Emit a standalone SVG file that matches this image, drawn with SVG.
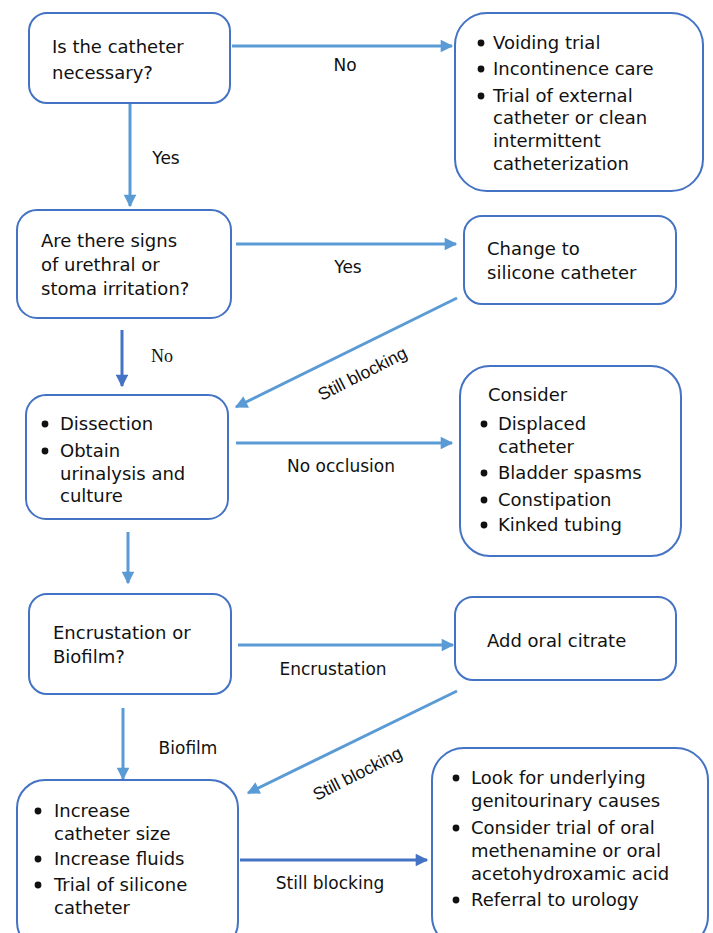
<svg xmlns="http://www.w3.org/2000/svg" width="713" height="933" viewBox="0 0 713 933">
<style>
.box{fill:#fff;stroke:#4472C4;stroke-width:2}
.t{font-family:"DejaVu Sans","Liberation Sans",sans-serif;font-size:18px;fill:#111}
.l{font-family:"DejaVu Sans","Liberation Sans",sans-serif;font-size:17px;fill:#111}
.d{font-family:"Liberation Sans",Arial,sans-serif;font-size:17.5px;fill:#111}
.s{font-family:"Liberation Serif","Times New Roman",serif;font-size:18px;fill:#111}
.c{stroke:#5B9BD5;stroke-width:3;fill:none}
.c2{stroke:#4472C4;stroke-width:3;fill:none}
.b{fill:#111}
</style>
<defs>
<marker id="a1" viewBox="0 0 10 10" refX="9" refY="5" markerWidth="4.5" markerHeight="4.2" orient="auto" markerUnits="strokeWidth"><path d="M0,0L10,5L0,10z" fill="#5B9BD5"/></marker>
<marker id="a2" viewBox="0 0 10 10" refX="9" refY="5" markerWidth="4.5" markerHeight="4.2" orient="auto" markerUnits="strokeWidth"><path d="M0,0L10,5L0,10z" fill="#4472C4"/></marker>
</defs>
<g id="connectors">
<line class="c" x1="232" y1="46" x2="452" y2="46" marker-end="url(#a1)"/>
<text class="l" x="345" y="71" text-anchor="middle">No</text>
<line class="c" x1="130" y1="104" x2="130" y2="206" marker-end="url(#a1)"/>
<text class="l" x="166" y="164" text-anchor="middle">Yes</text>
<line class="c" x1="236" y1="244" x2="456" y2="244" marker-end="url(#a1)"/>
<text class="l" x="348" y="273" text-anchor="middle">Yes</text>
<line class="c2" x1="122" y1="330" x2="122" y2="386" marker-end="url(#a2)"/>
<text class="s" x="162" y="362" text-anchor="middle">No</text>
<line class="c" x1="457" y1="298" x2="236" y2="407" marker-end="url(#a1)"/>
<text class="d" transform="translate(365,379) rotate(-27)" text-anchor="middle">Still blocking</text>
<line class="c" x1="236" y1="443" x2="452" y2="443" marker-end="url(#a1)"/>
<text class="l" x="341" y="472" text-anchor="middle">No occlusion</text>
<line class="c" x1="128" y1="532" x2="128" y2="583" marker-end="url(#a1)"/>
<line class="c" x1="238" y1="645" x2="453" y2="645" marker-end="url(#a1)"/>
<text class="l" x="333" y="675" text-anchor="middle">Encrustation</text>
<line class="c" x1="123" y1="708" x2="123" y2="779" marker-end="url(#a1)"/>
<text class="l" x="188" y="754" text-anchor="middle">Biofilm</text>
<line class="c" x1="457" y1="691" x2="248" y2="793" marker-end="url(#a1)"/>
<text class="d" transform="translate(360,779) rotate(-27)" text-anchor="middle">Still blocking</text>
<line class="c2" x1="240" y1="860" x2="427" y2="860" marker-end="url(#a2)"/>
<text class="l" x="330" y="889" text-anchor="middle">Still blocking</text>
</g>
<g id="nA">
<rect class="box" x="29" y="13" width="201" height="90" rx="18"/>
<text class="t" x="52" y="53">Is the catheter</text>
<text class="t" x="52" y="79">necessary?</text>
</g>
<g id="nB">
<rect class="box" x="455" y="13" width="248" height="178" rx="32"/>
<circle class="b" cx="481" cy="43" r="3.4"/><text class="t" x="493" y="49">Voiding trial</text>
<circle class="b" cx="481" cy="69" r="3.4"/><text class="t" x="493" y="75">Incontinence care</text>
<circle class="b" cx="481" cy="96" r="3.4"/><text class="t" x="493" y="102">Trial of external</text>
<text class="t" x="493" y="124">catheter or clean</text>
<text class="t" x="493" y="147">intermittent</text>
<text class="t" x="493" y="170">catheterization</text>
</g>
<g id="nC">
<rect class="box" x="17" y="210" width="214" height="108" rx="20"/>
<text class="t" x="41" y="247">Are there signs</text>
<text class="t" x="41" y="271">of urethral or</text>
<text class="t" x="41" y="295">stoma irritation?</text>
</g>
<g id="nD">
<rect class="box" x="464" y="216" width="212" height="88" rx="18"/>
<text class="t" x="487" y="255">Change to</text>
<text class="t" x="487" y="279">silicone catheter</text>
</g>
<g id="nE">
<rect class="box" x="26" y="395" width="202" height="124" rx="20"/>
<circle class="b" cx="45" cy="424" r="3.4"/><text class="t" x="60" y="430">Dissection</text>
<circle class="b" cx="45" cy="451" r="3.4"/><text class="t" x="60" y="457">Obtain</text>
<text class="t" x="60" y="480">urinalysis and</text>
<text class="t" x="60" y="502">culture</text>
</g>
<g id="nF">
<rect class="box" x="460" y="366" width="221" height="190" rx="30"/>
<text class="t" x="488" y="401">Consider</text>
<circle class="b" cx="484" cy="424" r="3.4"/><text class="t" x="498" y="430">Displaced</text>
<text class="t" x="498" y="453">catheter</text>
<circle class="b" cx="484" cy="473" r="3.4"/><text class="t" x="498" y="479">Bladder spasms</text>
<circle class="b" cx="484" cy="500" r="3.4"/><text class="t" x="498" y="506">Constipation</text>
<circle class="b" cx="484" cy="525" r="3.4"/><text class="t" x="498" y="531">Kinked tubing</text>
</g>
<g id="nG">
<rect class="box" x="29" y="594" width="202" height="100" rx="18"/>
<text class="t" x="53" y="639">Encrustation or</text>
<text class="t" x="53" y="663">Biofilm?</text>
</g>
<g id="nH">
<rect class="box" x="455" y="597" width="221" height="83" rx="18"/>
<text class="t" x="487" y="647">Add oral citrate</text>
</g>
<g id="nI">
<rect class="box" x="17" y="780" width="221" height="170" rx="28"/>
<circle class="b" cx="38" cy="811" r="3.4"/><text class="t" x="54" y="817">Increase</text>
<text class="t" x="54" y="840">catheter size</text>
<circle class="b" cx="38" cy="859" r="3.4"/><text class="t" x="54" y="865">Increase fluids</text>
<circle class="b" cx="38" cy="885" r="3.4"/><text class="t" x="54" y="891">Trial of silicone</text>
<text class="t" x="54" y="914">catheter</text>
</g>
<g id="nJ">
<rect class="box" x="432" y="748" width="276" height="200" rx="32"/>
<circle class="b" cx="456" cy="778" r="3.4"/><text class="t" x="471" y="784">Look for underlying</text>
<text class="t" x="471" y="807">genitourinary causes</text>
<circle class="b" cx="456" cy="828" r="3.4"/><text class="t" x="471" y="834">Consider trial of oral</text>
<text class="t" x="471" y="857">methenamine or oral</text>
<text class="t" x="471" y="880">acetohydroxamic acid</text>
<circle class="b" cx="456" cy="900" r="3.4"/><text class="t" x="471" y="906">Referral to urology</text>
</g>
</svg>
